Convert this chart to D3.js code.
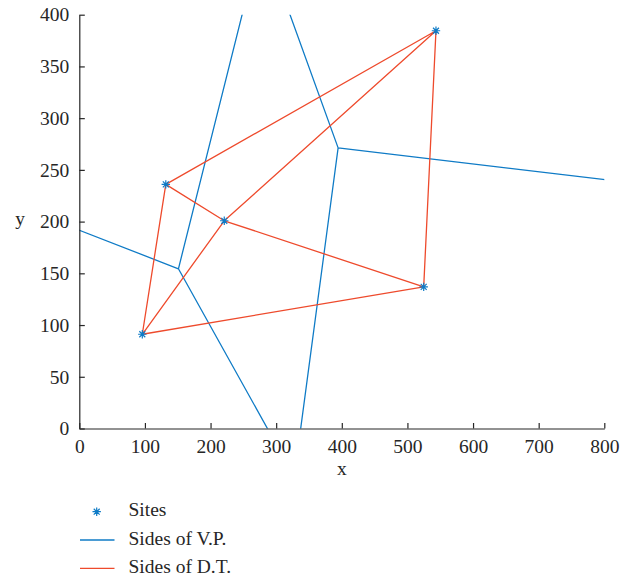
<!DOCTYPE html>
<html>
<head>
<meta charset="utf-8">
<script src="https://cdn.jsdelivr.net/npm/d3@7"></script>
<style>
  html, body { margin: 0; padding: 0; background: #fff; }
  svg { display: block; }
  text { font-family: "Liberation Serif", "DejaVu Serif", serif; fill: #262626; }
</style>
</head>
<body>
<svg id="chart" width="635" height="580"></svg>
<script>
// ---- data ----
const siteX = [543.5, 131.8, 220.9, 96.0, 524.8];
const siteY = [384.5, 236.0, 200.8, 91.1, 136.9];
const xTicks = [0, 100, 200, 300, 400, 500, 600, 700, 800];
const yTicks = [0, 50, 100, 150, 200, 250, 300, 350, 400];
const legendLabels = ["Sites", "Sides of V.P.", "Sides of D.T."];

// ---- style ----
const blue = "#0f7bc6";
const red = "#ee4a2c";
const axisColor = "#262626";
const fontSize = 19.5;

const svg = d3.select("#chart");
const x = d3.scaleLinear().domain([0, 800]).range([79.3, 604.3]);
const y = d3.scaleLinear().domain([0, 400]).range([428.5, 14.7]);

svg.append("clipPath").attr("id", "plotclip")
  .append("rect")
  .attr("x", x(0)).attr("y", y(400))
  .attr("width", x(800) - x(0)).attr("height", y(0) - y(400));

// context that maps data coords through the scales
function scaledContext() {
  const p = d3.path();
  return {
    moveTo: (a, b) => p.moveTo(x(a), y(b)),
    lineTo: (a, b) => p.lineTo(x(a), y(b)),
    closePath: () => p.closePath(),
    rect: () => {},
    arc: () => {},
    path: p
  };
}

const points = siteX.map((v, i) => [v, siteY[i]]);
const delaunay = d3.Delaunay.from(points);
const voronoi = delaunay.voronoi([-3000, -3000, 3800, 3400]);

// Voronoi sides
const vctx = scaledContext();
voronoi.render(vctx);
svg.append("path")
  .attr("d", vctx.path.toString())
  .attr("fill", "none")
  .attr("stroke", blue)
  .attr("stroke-width", 1.3)
  .attr("clip-path", "url(#plotclip)");

// Delaunay sides
const dctx = scaledContext();
delaunay.render(dctx);
svg.append("path")
  .attr("d", dctx.path.toString())
  .attr("fill", "none")
  .attr("stroke", red)
  .attr("stroke-width", 1.3)
  .attr("stroke-linejoin", "round");

// asterisk marker
function star(g, cx, cy, r) {
  const s = r * Math.SQRT1_2;
  const d = `M${cx - r},${cy}H${cx + r}M${cx},${cy - r}V${cy + r}` +
            `M${cx - s},${cy - s}L${cx + s},${cy + s}M${cx - s},${cy + s}L${cx + s},${cy - s}`;
  g.append("path").attr("d", d).attr("stroke", blue).attr("stroke-width", 1.2).attr("fill", "none");
}
const sitesG = svg.append("g");
points.forEach(p => star(sitesG, x(p[0]), y(p[1]), 4.2));

// axes
const xAxis = d3.axisBottom(x).tickValues(xTicks).tickSizeInner(-5.5).tickSizeOuter(0).tickPadding(11);
const yAxis = d3.axisLeft(y).tickValues(yTicks).tickSizeInner(-5.5).tickSizeOuter(0).tickPadding(10);

const gx = svg.append("g").attr("transform", `translate(0,${y(0)})`).call(xAxis);
const gy = svg.append("g").attr("transform", `translate(${x(0)},0)`).call(yAxis);
[gx, gy].forEach(g => {
  g.select(".domain").attr("stroke", axisColor).attr("stroke-width", 1.2);
  g.selectAll(".tick line").attr("stroke", axisColor).attr("stroke-width", 1.2);
  g.selectAll(".tick text")
    .attr("fill", axisColor)
    .style("font-family", '"Liberation Serif", "DejaVu Serif", serif')
    .style("font-size", fontSize + "px");
});

// axis titles
svg.append("text").attr("x", (x(0) + x(800)) / 2).attr("y", 475)
  .attr("text-anchor", "middle").style("font-size", fontSize + "px").text("x");
svg.append("text").attr("x", 20).attr("y", 225)
  .attr("text-anchor", "middle").style("font-size", fontSize + "px").text("y");

// legend
const lg = svg.append("g");
const legendY = [511.7, 540, 568.3];
star(lg, 96.7, legendY[0], 4.2);
lg.append("line").attr("x1", 80).attr("x2", 114.5).attr("y1", legendY[1]).attr("y2", legendY[1])
  .attr("stroke", blue).attr("stroke-width", 1.3);
lg.append("line").attr("x1", 80).attr("x2", 114.5).attr("y1", legendY[2]).attr("y2", legendY[2])
  .attr("stroke", red).attr("stroke-width", 1.3);
legendLabels.forEach((t, i) => {
  lg.append("text").attr("x", 128.5).attr("y", legendY[i] + 4.5)
    .style("font-size", fontSize + "px").text(t);
});
</script>
</body>
</html>
